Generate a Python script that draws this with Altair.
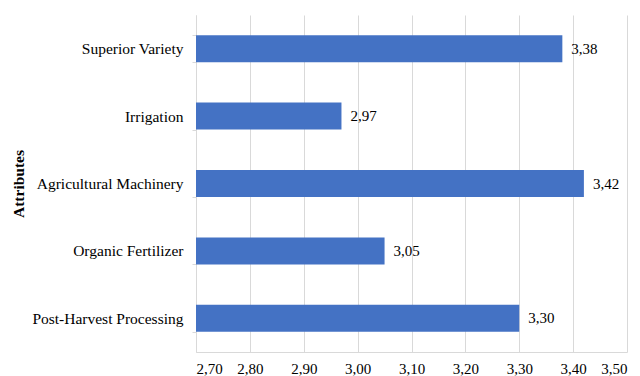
import altair as alt
import pandas as pd

attributes = [
    "Superior Variety",
    "Irrigation",
    "Agricultural Machinery",
    "Organic Fertilizer",
    "Post-Harvest Processing",
]
scores = [3.38, 2.97, 3.42, 3.05, 3.30]
x_ticks = [2.70, 2.80, 2.90, 3.00, 3.10, 3.20, 3.30, 3.40, 3.50]
axis_start = 2.70

df = pd.DataFrame({"attribute": attributes, "score": scores})

FONT = "Liberation Serif"
GRID = "#d9d9d9"

y_enc = alt.Y(
    "attribute:N",
    sort=attributes,
    scale=alt.Scale(paddingInner=0.6, paddingOuter=0.3),
    axis=alt.Axis(
        title="Attributes",
        titleFontSize=15.5,
        titleFontWeight="bold",
        titlePadding=5,
        labelFontSize=15.5,
        labelPadding=9,
        labelLimit=300,
        tickSize=4,
        tickBand="extent",
        grid=False,
    ),
)

x_enc = alt.X(
    "score:Q",
    scale=alt.Scale(domain=[2.70, 3.50], zero=False, nice=False),
    axis=alt.Axis(
        title=None,
        values=x_ticks,
        labelExpr="replace(format(datum.value, '.2f'), '.', ',')",
        labelFontSize=15,
        labelPadding=9,
        ticks=False,
        grid=True,
    ),
)

bars = alt.Chart(df).mark_bar(color="#4472C4").encode(
    x=x_enc, x2=alt.X2(datum=axis_start), y=y_enc
)

labels = (
    alt.Chart(df)
    .transform_calculate(label="replace(format(datum.score, '.2f'), '.', ',')")
    .mark_text(align="left", baseline="middle", dx=9, fontSize=15, color="black", font=FONT)
    .encode(x="score:Q", y=alt.Y("attribute:N", sort=attributes), text="label:N")
)

chart = (
    alt.layer(bars, labels)
    .properties(
        width=431,
        height=337,
        autosize=alt.AutoSizeParams(type="none"),
        padding={"left": 196, "top": 15, "right": 13, "bottom": 24},
        background="white",
    )
    .configure_view(stroke=None)
    .configure_axis(
        labelFont=FONT,
        titleFont=FONT,
        labelColor="black",
        titleColor="black",
        domainColor=GRID,
        tickColor=GRID,
        gridColor=GRID,
    )
)

chart.save("out.html", embed_options={"renderer": "svg", "actions": False})
